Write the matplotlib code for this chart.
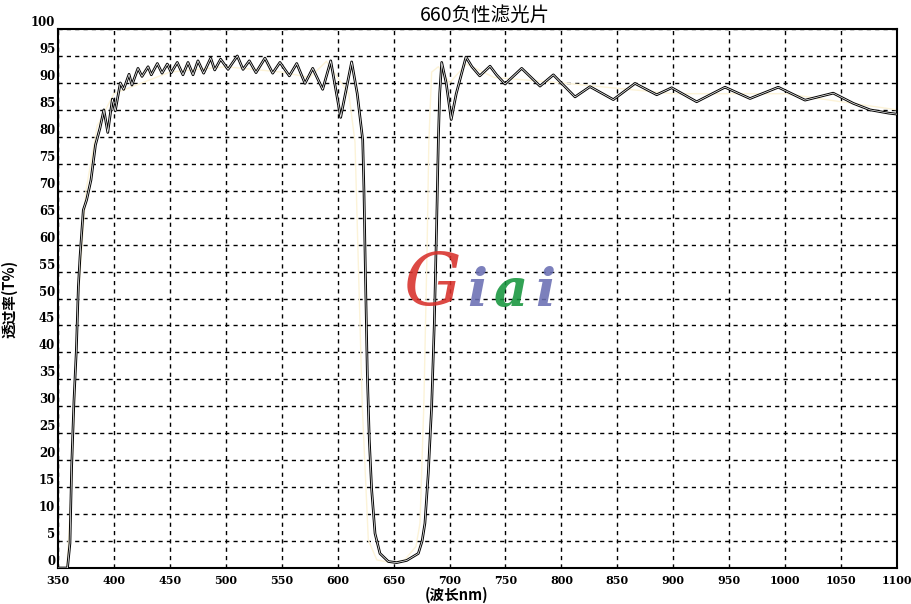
import matplotlib
matplotlib.use('Agg')
import matplotlib.pyplot as plt

# ---- data ----
wavelength = [350, 358.5, 360.7, 362.2, 364.3, 366.4, 368.2, 369.7, 372.6, 375.6,
              379.5, 383.5, 387.5, 391.0, 394.5, 398.6, 401.2, 405.7, 408.7, 413.5,
              416.1, 421.5, 425.1, 430.5, 433.4, 438.8, 443.0, 447.7, 451.3, 456.6,
              461.7, 466.2, 470.7, 475.1, 480.2, 486.5, 490.1, 495.4, 502.0, 510.3,
              515.4, 521.0, 527.0, 535.0, 541.9, 548.4, 556.8, 563.4, 570.8, 577.7,
              586.6, 593.8, 602.7, 612.5, 617.5, 622.4, 623.5, 624.7, 626.5, 628.3,
              630.4, 633.4, 637.8, 645.3, 652.8, 661.7, 672.1, 675.5, 678.0, 681.0,
              684.0, 686.4, 688.5, 690.0, 691.2, 693.0, 697.0, 701.5, 706.0, 714.7,
              720.0, 727.0, 736.2, 742.0, 749.6, 764.5, 780.9, 792.8, 812.2, 825.6,
              846.4, 865.8, 885.2, 898.6, 920.9, 946.2, 968.6, 993.9, 1017.8, 1043.0,
              1061.0, 1075.9, 1092.2, 1100.0]
transmittance = [0, 0, 4.6, 18.8, 31.2, 40.4, 52.2, 57.8, 66.4, 68.3,
                 72.0, 78.5, 81.6, 85.0, 80.8, 87.0, 84.8, 90.0, 88.8, 91.6,
                 89.6, 92.7, 91.2, 93.0, 91.5, 93.6, 91.8, 93.5, 91.9, 93.8,
                 91.5, 93.8, 91.5, 94.1, 91.8, 94.6, 92.4, 94.4, 92.5, 95.0,
                 92.5, 94.1, 91.9, 94.6, 91.8, 93.8, 91.3, 93.6, 89.9, 92.7,
                 88.8, 94.1, 83.6, 93.9, 88.0, 79.4, 70.1, 55.9, 36.1, 23.7,
                 14.5, 6.4, 2.7, 1.2, 1.0, 1.4, 2.7, 5.0, 8.3, 17.6,
                 29.9, 45.4, 63.9, 79.4, 88.0, 93.8, 90.0, 83.2, 88.0, 94.8,
                 93.0, 91.3, 93.1, 91.5, 89.8, 92.7, 89.4, 91.5, 87.4, 89.3,
                 86.9, 89.9, 87.8, 89.1, 86.5, 89.2, 87.1, 89.2, 86.8, 88.1,
                 86.2, 85.0, 84.4, 84.2]

# faint reference curve (pale yellow)
ref_wavelength = [350, 358, 362, 368, 375, 385, 400, 450, 500, 550, 575, 590, 600,
                  610, 615.5, 618, 622, 627.4, 635, 648, 660, 670, 673.6, 677,
                  680, 681.5, 684, 690, 700, 715, 740, 800, 900, 1000, 1100]
ref_transmittance = [0, 0, 15, 50, 70, 82, 88, 92, 93, 92, 91, 94, 91,
                     88, 79, 60, 30, 5.2, 1.5, 1.0, 1.5, 4.0, 8.3, 30,
                     60, 79, 92, 93, 90, 93.5, 91, 90, 88, 88, 85]

x_ticks = list(range(350, 1101, 50))
y_ticks = list(range(0, 101, 5))
title_text = "660负性滤光片"
x_label = "(波长nm)"
y_label = "透过率(T%)"
watermark = [("G", "#d8302a"), ("i", "#6a6fb3"), ("a", "#15953c"), ("i", "#6a6fb3")]

cjk = ['Noto Sans CJK SC', 'DejaVu Sans']

W, H = 911, 604
fig = plt.figure(figsize=(W / 100, H / 100), dpi=100)
fig.patch.set_facecolor('white')
ax = fig.add_axes([58 / W, (H - 568) / H, 839 / W, 539 / H])

ax.plot(ref_wavelength, ref_transmittance, color='#fcf3d8', lw=1.0, zorder=2)
ax.plot(wavelength, transmittance, color='black', lw=1.9, zorder=3,
        solid_joinstyle='round')
ax.plot(wavelength, transmittance, color='white', lw=0.5, zorder=4,
        solid_joinstyle='round')

ax.set_xlim(350, 1100)
ax.set_ylim(0, 100)
ax.set_xticks(x_ticks)
ax.set_yticks(y_ticks)
ax.set_xticklabels([str(v) for v in x_ticks], fontfamily='DejaVu Serif',
                   fontweight='bold', fontsize=8)
ax.set_yticklabels([str(v) for v in y_ticks], fontfamily='DejaVu Serif',
                   fontweight='bold', fontsize=8.5)
for lbl in ax.get_yticklabels():
    lbl.set_va('bottom')
ax.tick_params(axis='both', length=0)
ax.tick_params(axis='x', pad=5)
ax.tick_params(axis='y', pad=2)
ax.grid(True, color='black', linestyle=(0, (3, 3)), linewidth=1.0)
ax.set_axisbelow(True)
for sp in ax.spines.values():
    sp.set_color('black')
    sp.set_linewidth(1.5)

fig.text(485 / W, 1 - 15 / H, title_text, family=cjk, fontsize=14,
         ha='center', va='center')
fig.text(457 / W, 1 - 595 / H, x_label, family=cjk, fontsize=10.5,
         fontweight='bold', ha='center', va='center')
fig.text(9 / W, 1 - 299 / H, y_label, family=cjk, fontsize=10.5,
         fontweight='bold', ha='center', va='center', rotation=90)

# watermark
xpos = [403, 467, 493, 535]
sizes = [52, 38, 38, 38]
for (ch, col), xp, sz in zip(watermark, xpos, sizes):
    fig.text(xp / W, 1 - 306 / H, ch, family='DejaVu Serif', style='italic',
             fontweight='bold' if ch != 'G' else 'normal',
             fontsize=sz, color=col, alpha=0.88, ha='left', va='baseline',
             zorder=10)

fig.savefig('out.png', dpi=100)
